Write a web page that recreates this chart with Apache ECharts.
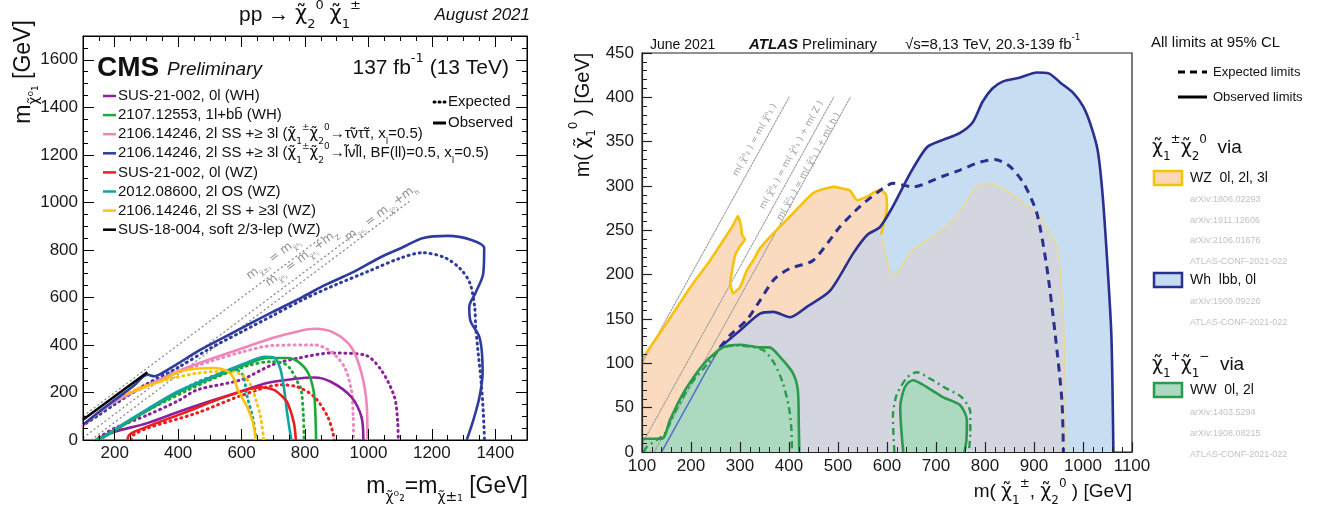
<!DOCTYPE html>
<html><head><meta charset="utf-8">
<script src="https://cdn.jsdelivr.net/npm/echarts@6.0.0/dist/echarts.min.js"></script>
<style>html,body{margin:0;padding:0;background:#fff}#c{width:1326px;height:509px}</style>
</head><body><div id="c"></div>
<script>
// ---------------- LEFT PANEL (CMS) DATA : [m_chi2 (GeV), m_chi1 (GeV)] ----------------
const cmsXTickLabels = [200, 400, 600, 800, 1000, 1200, 1400];
const cmsWhObs  = [[150,0],[163,15],[200,35],[303,71],[400,118],[512,168],[600,205],[680,240],[770,258],[830,263],[883,244],[946,181],[978,97],[984,0]];
const cmsWhExp  = [[150,10],[200,50],[303,105],[400,165],[460,211],[597,253],[700,318],[780,345],[883,366],[988,358],[1040,295],[1082,181],[1092,80],[1094,0]];
const bbObs     = [[140,0],[170,15],[200,40],[303,126],[400,200],[492,253],[618,320],[682,345],[745,345],[778,330],[810,282],[828,200],[833,100],[835,0]];
const bbExp     = [[140,0],[200,40],[303,124],[492,248],[618,312],[695,330],[737,320],[756,295],[778,240],[788,211],[795,100],[797,0]];
const tauObs    = [[100,60],[115,80],[200,160],[303,230],[400,290],[512,345],[600,385],[700,430],[780,458],[830,468],[890,452],[945,392],[978,282],[995,140],[997,0]];
const tauExp    = [[100,60],[200,160],[303,228],[400,285],[500,330],[600,370],[700,398],[830,400],[883,371],[924,308],[946,211],[952,100],[953,0]];
const lnuObs    = [[100,65],[115,80],[150,118],[200,168],[260,228],[303,275],[325,268],[345,278],[400,322],[460,372],[520,415],[620,485],[700,540],[790,600],[860,650],[950,705],[1040,770],[1110,812],[1170,849],[1250,859],[1325,842],[1365,808],[1362,700],[1338,620],[1318,560],[1322,500],[1348,440],[1357,380],[1360,282],[1350,180],[1330,80],[1310,0]];
const lnuExp    = [[110,70],[150,105],[200,150],[300,235],[400,305],[500,385],[600,455],[700,525],[800,595],[900,655],[1000,710],[1100,765],[1170,788],[1240,768],[1290,720],[1320,660],[1335,560],[1338,480],[1345,380],[1355,250],[1362,120],[1366,0]];
const wz0lObs   = [[240,0],[245,20],[262,35],[410,110],[566,190],[661,222],[702,211],[727,185],[745,156],[765,72],[771,0]];
const wz0lExp   = [[252,0],[258,20],[303,50],[460,114],[605,190],[724,232],[777,223],[830,181],[872,97],[888,30],[892,0]];
const osObs     = [[150,0],[200,45],[303,130],[400,205],[505,265],[605,320],[675,350],[705,345],[722,300],[733,225],[743,120],[752,40],[757,0]];
const osExp     = [[150,0],[200,42],[303,125],[455,240],[555,288],[585,294],[605,270],[618,181],[636,90],[646,0]];
const ssObs     = [[230,190],[270,211],[350,250],[410,290],[512,303],[555,290],[575,260],[588,211],[605,170],[618,139],[636,72],[645,0]];
const ssExp     = [[230,190],[300,230],[455,280],[565,290],[605,270],[630,230],[645,170],[660,97],[670,0]];
const softObs   = [[100,85],[303,285]];
const cmsDiag1  = [[100,100],[860,860]];
const cmsDiag2  = [[100,9],[960,869]];
const cmsDiag3  = [[125,0],[1130,1005]];
const cmsLegend = [
  'SUS-21-002, 0l (WH)',
  '2107.12553, 1l+bb\u0304 (WH)',
  '2106.14246, 2l SS +\u2265 3l ({c|\u03C7\u0303}{sb|1}{sp|\u00B1}{c|\u03C7\u0303}{sb|2}{sp|0}\u2192\u03C4\u0303\u03BD\u03C4\u0303\u03C4, x{sb|l}=0.5)',
  '2106.14246, 2l SS +\u2265 3l ({c|\u03C7\u0303}{sb|1}{sp|\u00B1}{c|\u03C7\u0303}{sb|2}{sp|0}\u2192l\u0303\u03BDl\u0303l, BF(ll)=0.5, x{sb|l}=0.5)',
  'SUS-21-002, 0l (WZ)',
  '2012.08600, 2l OS (WZ)',
  '2106.14246, 2l SS + \u22653l (WZ)',
  'SUS-18-004, soft 2/3-lep (WZ)'
];

// ---------------- RIGHT PANEL (ATLAS) DATA : [m(chi1+-,chi20), m(chi10)] ----------------
const wzRegion = [[100,0],[100,105],[150,145],[200,187],[239,216],[265,238],[285,255],[296,266],[302,255],[304,245],[310,240],[300,232],[290,222],[284,205],[280,190],[286,179],[300,186],[314,205],[327,216],[341,230],[367,246],[408,269],[449,292],[490,299],[524,295],[539,284],[559,288],[586,296],[598,290],[600,275],[592,255],[590,240],[612,197],[653,228],[700,245],[735,261],[783,299],[810,303],[851,292],[906,269],[947,231],[958,170],[963,100],[965,0]];
const wzOutline = [[100,105],[150,145],[200,187],[239,216],[265,238],[285,255],[296,266],[302,255],[304,245],[310,240],[300,232],[290,222],[284,205],[280,190],[286,179],[300,186],[314,205],[327,216],[341,230],[367,246],[408,269],[449,292],[490,299],[524,295],[539,284],[559,288],[586,296],[598,290],[600,275],[592,255],[588,245]];
const wzInner   = [[590,240],[612,197],[653,228],[700,245],[735,261],[783,299],[810,303],[851,292],[906,269],[947,231],[958,170],[963,100],[965,0]];
const whRegion  = [[140,0],[170,30],[200,60],[230,90],[259,118],[300,137],[341,156],[368,158],[402,152],[437,164],[484,182],[531,224],[560,245],[586,254],[612,277],[647,314],[682,344],[714,352],[749,360],[775,372],[795,395],[815,410],[837,418],[870,422],[906,428],[930,427],[955,416],[980,405],[1000,390],[1015,370],[1030,340],[1040,290],[1050,210],[1058,130],[1062,0]];
const overlapRegion = [[140,0],[170,30],[200,60],[230,90],[259,118],[300,137],[341,156],[368,158],[402,152],[437,164],[484,182],[531,224],[560,245],[575,247],[590,240],[612,197],[653,228],[700,245],[735,261],[783,299],[810,303],[851,292],[906,269],[947,231],[958,170],[963,100],[965,0]];
const whLow     = [[140,0],[170,30],[200,60],[230,90],[259,118]];
const whObs     = [[259,118],[300,137],[341,156],[368,158],[402,152],[437,164],[484,182],[531,224],[560,245],[586,254],[612,277],[647,314],[682,344],[714,352],[749,360],[775,372],[795,395],[815,410],[837,418],[870,422],[906,428],[930,427],[955,416],[980,405],[1000,390],[1015,370],[1030,340],[1040,290],[1050,210],[1058,130],[1062,0]];
const whExp     = [[259,118],[280,132],[314,149],[341,171],[370,195],[402,207],[449,216],[504,254],[545,277],[586,295],[612,303],[653,299],[714,311],[749,318],[790,327],[820,330],[851,322],[880,302],[906,269],[926,209],[943,134],[957,58],[960,0]];
const wwRegion1 = [[100,0],[100,15],[141,15],[157,36],[184,66],[210,88],[232,103],[265,118],[300,121],[341,118],[360,118],[382,107],[408,89],[418,70],[420,30],[421,0]];
const wwExp1    = [[104,0],[110,6],[145,20],[170,48],[200,77],[235,100],[265,118],[300,120],[347,115],[370,100],[388,77],[400,50],[405,25],[406,0]];
const wwRegion2 = [[633,0],[627,50],[633,68],[641,77],[653,81],[682,73],[714,62],[749,53],[763,36],[762,13],[758,0]];
const wwExp2    = [[615,0],[612,40],[620,65],[641,84],[661,90],[690,82],[720,72],[752,62],[770,45],[770,20],[767,0]];
const atlasDiag1 = [[100,100],[400,400]];
const atlasDiag2 = [[100,9],[491,400]];
const atlasDiag3 = [[125,0],[525,400]];
const wzRefs = ['arXiv:1806.02293','arXiv:1911.12606','arXiv:2106.01676','ATLAS-CONF-2021-022'];
const whRefs = ['arXiv:1909.09226','ATLAS-CONF-2021-022'];
const wwRefs = ['arXiv:1403.5294','arXiv:1908.08215','ATLAS-CONF-2021-022'];

// ---------------- STYLE ----------------
const FF = "'Liberation Sans', Arial, 'DejaVu Sans', sans-serif";
const FG = "'DejaVu Sans', 'Noto Sans', sans-serif";
const C = {purple:'#8e1f9c', green:'#1fa83a', pink:'#f085bb', blue:'#2d3c9e', red:'#ee1d1d', teal:'#12a4a4', yellow:'#ffc20e', black:'#000'};

function richFor(size, color){
  const ss = Math.round(size*0.62);
  const L = Math.round(size*1.5);
  return {
    sb:{fontSize:ss, fontFamily:FG, lineHeight:ss+2, verticalAlign:'bottom', fill:color},
    sp:{fontSize:ss, fontFamily:FG, lineHeight:ss+Math.round(size*0.3), verticalAlign:'top', fill:color},
    c:{fontSize:size, fontFamily:FG, lineHeight:L, fill:color},
    bi:{fontSize:size, fontFamily:FF, fontWeight:'bold', fontStyle:'italic', fill:color, lineHeight:L}
  };
}
function T(x, y, text, o){
  o = o || {};
  const size = o.size || 15, color = o.color || '#111';
  return {type:'text', x:x, y:y, rotation:o.rot||0, z:100, silent:true,
    style:{text:text, fontSize:size, fontFamily:o.font||FF, fontWeight:o.bold?'bold':'normal', fontStyle:o.italic?'italic':'normal',
      fill:color, align:o.align||'left', textAlign:o.align||'left', verticalAlign:o.va||'middle', textVerticalAlign:o.va||'middle',
      lineHeight:Math.round(size*1.5), rich:richFor(size, color)}};
}
function Lg(x1, y1, x2, y2, color, width, dash){
  return {type:'line', z:100, silent:true, shape:{x1:x1,y1:y1,x2:x2,y2:y2},
    style:{stroke:color, lineWidth:width, lineDash:dash||null, lineCap:dash&&dash[0]<2?'round':'butt'}};
}
function line(data, color, width, dash, xi, yi, z, smooth){
  return {type:'line', data:data, xAxisIndex:xi, yAxisIndex:yi, showSymbol:false, symbol:'none', silent:true,
    smooth:smooth===undefined?0.25:smooth, z:z||6, animation:false, clip:true,
    lineStyle:{color:color, width:width, type:dash||'solid', cap:(dash && dash[0]<2)?'round':'butt'}};
}
function poly(data, fill, z){
  return {type:'custom', xAxisIndex:4, yAxisIndex:2, data:[[500,100]], silent:true, z:z, clip:true, animation:false,
    renderItem:function(params, api){
      return {type:'polygon', shape:{points:data.map(function(p){return api.coord(p);})}, style:{fill:fill}};
    }};
}
const DOT = [1,4.6];
const L = (d,c,dash)=>line(d,c,dash?3:2.6,dash?DOT:null,0,0,6,0.3);
const plain = function(v){ return String(v); };

const axisFont = {fontSize:17, color:'#1a1a1a', fontFamily:FF, formatter:plain};
const noLine = {show:false};
const xAxes = [
  {gridIndex:0, type:'value', position:'bottom', min:100, max:1500, z:10,
   axisLine:{show:true, onZero:false, lineStyle:{color:'#000', width:1}},
   axisTick:{show:true, inside:true, length:11, customValues:cmsXTickLabels, lineStyle:{color:'#000'}},
   axisLabel:{show:true, customValues:cmsXTickLabels, margin:5, ...axisFont}, splitLine:noLine},
  {gridIndex:0, type:'value', position:'bottom', min:100, max:1500, interval:50, z:10,
   axisLine:{show:false, onZero:false}, axisTick:{show:true, inside:true, length:5, lineStyle:{color:'#000'}},
   axisLabel:{show:false}, splitLine:noLine},
  {gridIndex:0, type:'value', position:'top', min:100, max:1500, z:10,
   axisLine:{show:true, onZero:false, lineStyle:{color:'#000', width:1}},
   axisTick:{show:true, inside:true, length:11, customValues:cmsXTickLabels, lineStyle:{color:'#000'}},
   axisLabel:{show:false}, splitLine:noLine},
  {gridIndex:0, type:'value', position:'top', min:100, max:1500, interval:50, z:10,
   axisLine:{show:false, onZero:false}, axisTick:{show:true, inside:true, length:5, lineStyle:{color:'#000'}},
   axisLabel:{show:false}, splitLine:noLine},
  {gridIndex:1, type:'value', position:'bottom', min:100, max:1100, interval:100, z:10,
   axisLine:{show:true, onZero:false, lineStyle:{color:'#222', width:1.2}},
   axisTick:{show:true, inside:true, length:10, lineStyle:{color:'#222', width:1.2}},
   minorTick:{show:true, splitNumber:5, length:5, lineStyle:{color:'#222', width:1}},
   axisLabel:{show:true, margin:6, ...axisFont}, splitLine:noLine, minorSplitLine:noLine}
];
const yAxes = [
  {gridIndex:0, type:'value', position:'left', min:0, max:1700, interval:200, z:10,
   axisLine:{show:true, onZero:false, lineStyle:{color:'#000'}},
   axisTick:{show:true, inside:true, length:11, lineStyle:{color:'#000'}},
   minorTick:{show:true, splitNumber:4, length:5, lineStyle:{color:'#000'}},
   axisLabel:{show:true, margin:5, showMaxLabel:false, ...axisFont}, splitLine:noLine, minorSplitLine:noLine},
  {gridIndex:0, type:'value', position:'right', min:0, max:1700, interval:200, z:10,
   axisLine:{show:true, onZero:false, lineStyle:{color:'#000'}},
   axisTick:{show:true, inside:true, length:11, lineStyle:{color:'#000'}},
   minorTick:{show:true, splitNumber:4, length:5, lineStyle:{color:'#000'}},
   axisLabel:{show:false}, splitLine:noLine, minorSplitLine:noLine},
  {gridIndex:1, type:'value', position:'left', min:0, max:450, interval:50, z:10,
   axisLine:{show:true, onZero:false, lineStyle:{color:'#222', width:1.2}},
   axisTick:{show:true, inside:true, length:10, lineStyle:{color:'#222', width:1.2}},
   minorTick:{show:true, splitNumber:5, length:5, lineStyle:{color:'#222', width:1}},
   axisLabel:{show:true, margin:8, ...axisFont}, splitLine:noLine, minorSplitLine:noLine}
];

const series = [
  line(cmsDiag1,'#8a8a8a',1.3,[2,2.5],0,0,3,0),
  line(cmsDiag2,'#8a8a8a',1.3,[2,2.5],0,0,3,0),
  line(cmsDiag3,'#8a8a8a',1.3,[2,2.5],0,0,3,0),
  L(cmsWhExp,C.purple,true), L(tauExp,C.pink,true), L(lnuExp,C.blue,true), L(bbExp,C.green,true),
  L(wz0lExp,C.red,true), L(osExp,C.teal,true), L(ssExp,C.yellow,true),
  L(cmsWhObs,C.purple), L(tauObs,C.pink), L(bbObs,C.green), L(osObs,C.teal),
  L(wz0lObs,C.red), L(ssObs,C.yellow), L(lnuObs,C.blue), L(softObs,C.black),
  poly(wzRegion,'#fbdbbf',1),
  poly(whRegion,'#c7ddf1',2),
  poly(overlapRegion,'#d3d6de',3),
  poly(wwRegion1,'#acd9bf',4),
  poly(wwRegion2,'#acd9bf',4),
  line(atlasDiag1,'#9a9a9a',1.1,[1.5,1.5],4,2,5,0),
  line(atlasDiag2,'#9a9a9a',1.1,[1.5,1.5],4,2,5,0),
  line(atlasDiag3,'#9a9a9a',1.1,[1.5,1.5],4,2,5,0),
  line(wzInner,'#e8da94',1.6,null,4,2,6,0.2),
  line(wzOutline,'#f7c20a',2.6,null,4,2,7,0.15),
  line(whLow,'#5a72c8',1.6,null,4,2,7,0.2),
  line(whExp,'#2b2f8f',3,[8,6],4,2,8,0.25),
  line(whObs,'#2b2f8f',2.6,null,4,2,8,0.25),
  line(wwExp1,'#2a9a4c',2.4,[7,4,2,4],4,2,9,0.25),
  line(wwExp2,'#2a9a4c',2.4,[7,4,2,4],4,2,9,0.25),
  line(wwRegion1.slice(1),'#2a9a4c',2.6,null,4,2,9,0.25),
  line(wwRegion2,'#2a9a4c',2.6,null,4,2,9,0.25)
];

const legendColors = [C.purple, C.green, C.pink, C.blue, C.red, C.teal, C.yellow, C.black];
const graphics = [];
graphics.push(T(300,15,'pp \u2192 {c|\u03C7\u0303}{sb|2}{sp|0} {c|\u03C7\u0303}{sb|1}{sp|\u00B1}',{size:21,align:'center'}));
graphics.push(T(530,15,'August 2021',{size:17,italic:true,align:'right'}));
graphics.push(T(97,68,'CMS',{size:28,bold:true}));
graphics.push(T(167,70,'Preliminary',{size:19,italic:true}));
graphics.push(T(509,68,'137 fb{sp|-1} (13 TeV)',{size:21,align:'right'}));
cmsLegend.forEach(function(t,i){
  const y = 96 + i*19.1;
  graphics.push(Lg(103,y,116,y,legendColors[i],2.5));
  graphics.push(T(118,y,t,{size:15}));
});
graphics.push(Lg(434,102,446,102,'#000',3,[1,4]));
graphics.push(T(448,102,'Expected',{size:15}));
graphics.push(Lg(433,123,446,123,'#000',3));
graphics.push(T(448,123,'Observed',{size:15}));
graphics.push(T(24,72,'m{sb|\u03C7\u0303\u2070\u2081} [GeV]',{size:23,align:'center',rot:Math.PI/2}));
graphics.push(T(528,487,'m{sb|\u03C7\u0303\u2070\u2082}=m{sb|\u03C7\u0303\u00B1\u2081} [GeV]',{size:23,align:'right'}));
graphics.push(T(650,45,'June 2021',{size:14}));
graphics.push(T(749,45,'{bi|ATLAS} Preliminary',{size:15}));
graphics.push(T(905,45,'\u221As=8,13 TeV, 20.3-139 fb{sp|-1}',{size:15}));
graphics.push(T(583,115,'m( {c|\u03C7\u0303}{sb|1}{sp|0} ) [GeV]',{size:20,align:'center',rot:Math.PI/2}));
graphics.push(T(1132,492,'m( {c|\u03C7\u0303}{sb|1}{sp|\u00B1}, {c|\u03C7\u0303}{sb|2}{sp|0} ) [GeV]',{size:19,align:'right'}));
graphics.push(T(1151,43,'All limits at 95% CL',{size:15}));
graphics.push(Lg(1178,72,1207,72,'#000',3,[7,5]));
graphics.push(T(1213,72,'Expected limits',{size:13}));
graphics.push(Lg(1178,97,1207,97,'#000',3));
graphics.push(T(1213,97,'Observed limits',{size:13}));
graphics.push(T(1152,148,'{c|\u03C7\u0303}{sb|1}{sp|\u00B1}{c|\u03C7\u0303}{sb|2}{sp|0}  via',{size:19}));
function box(y, fill, stroke){ return {type:'rect', z:100, silent:true, shape:{x:1154,y:y,width:28,height:14}, style:{fill:fill, stroke:stroke, lineWidth:2.5}}; }
graphics.push(box(171,'#fbd7b8','#f5c400'));
graphics.push(T(1190,178,'WZ  0l, 2l, 3l',{size:14}));
wzRefs.forEach(function(t,i){ graphics.push(T(1190,200+i*20.5,t,{size:9,color:'#c9bfbf'})); });
graphics.push(box(273,'#c5dcf0','#2b2f8f'));
graphics.push(T(1190,280,'Wh  lbb, 0l',{size:14}));
whRefs.forEach(function(t,i){ graphics.push(T(1190,302+i*20.5,t,{size:9,color:'#c9bfbf'})); });
graphics.push(T(1152,365,'{c|\u03C7\u0303}{sb|1}{sp|+}{c|\u03C7\u0303}{sb|1}{sp|\u2212}  via',{size:19}));
graphics.push(box(383,'#acd9bf','#2a9a4c'));
graphics.push(T(1190,390,'WW  0l, 2l',{size:14}));
wwRefs.forEach(function(t,i){ graphics.push(T(1190,413+i*21,t,{size:9,color:'#c9bfbf'})); });

const chart = echarts.init(document.getElementById('c'), null, {renderer:'canvas', width:1326, height:509});
chart.setOption({
  animation:false,
  backgroundColor:'#ffffff',
  grid:[
    {left:83, top:36, width:444, height:404, show:true, borderColor:'#000', borderWidth:1, backgroundColor:'rgba(0,0,0,0)', containLabel:false, outerBoundsMode:'none'},
    {left:642, top:53, width:490, height:399, show:true, borderColor:'#222', borderWidth:1.2, backgroundColor:'rgba(0,0,0,0)', containLabel:false, outerBoundsMode:'none'}
  ],
  xAxis:xAxes, yAxis:yAxes, series:series, graphic:graphics
});

function along(seriesIndex, p0, p1, at, text, size, color){
  const a = chart.convertToPixel({seriesIndex:seriesIndex}, p0);
  const b = chart.convertToPixel({seriesIndex:seriesIndex}, p1);
  const c = chart.convertToPixel({seriesIndex:seriesIndex}, at);
  const rot = Math.atan2(a[1]-b[1], b[0]-a[0]);
  return T(c[0], c[1], text, {size:size, color:color, align:'center', rot:rot, font:FG});
}
const extra = [
  along(0,[100,100],[860,860],[700,765],'m{sb|\u03C7\u0303\u00B1\u2081} = m{sb|\u03C7\u0303\u2070\u2081}',12,'#8c8c8c'),
  along(0,[100,100],[860,860],[790,765],'m{sb|\u03C7\u0303\u2070\u2082} = m{sb|\u03C7\u0303\u2070\u2081}+m{sb|Z}',12,'#8c8c8c'),
  along(0,[100,100],[860,860],[1040,955],'m{sb|\u03C7\u0303\u2070\u2082} = m{sb|\u03C7\u0303\u2070\u2081}+m{sb|h}',12,'#8c8c8c'),
  along(23,[100,100],[400,400],[330,352],'m( \u03C7\u0303\u2070\u2082 ) = m( \u03C7\u0303\u2070\u2081 )',9,'#a0a0a0'),
  along(23,[100,100],[400,400],[405,335],'m( \u03C7\u0303\u2070\u2082 ) = m( \u03C7\u0303\u2070\u2081 ) + m( Z )',9,'#a0a0a0'),
  along(23,[100,100],[400,400],[440,322],'m( \u03C7\u0303\u2070\u2082 ) = m( \u03C7\u0303\u2070\u2081 ) + m( h )',9,'#a0a0a0')
];
chart.setOption({graphic:graphics.concat(extra)});
</script></body></html>
